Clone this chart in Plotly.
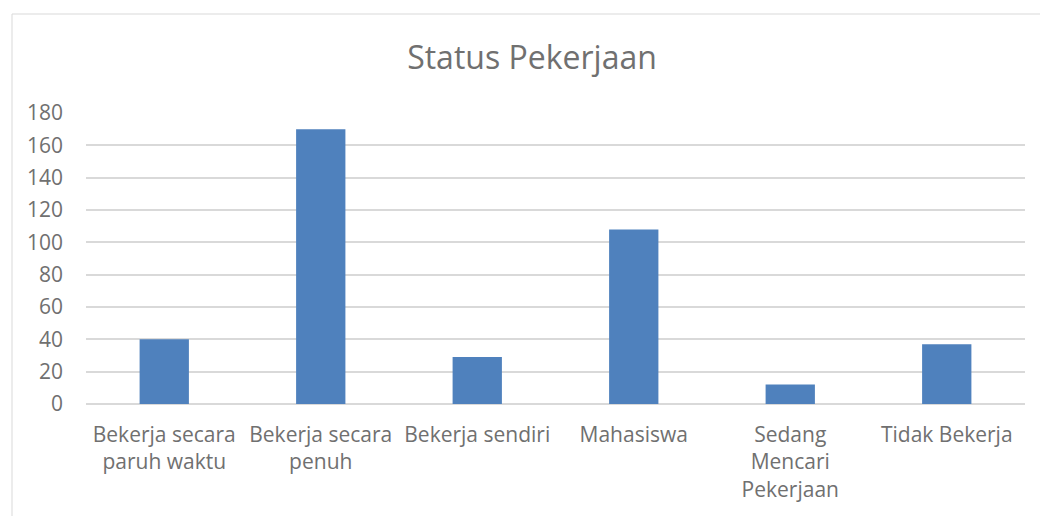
import plotly.graph_objects as go

categories = [
    "Bekerja secara<br>paruh waktu",
    "Bekerja secara<br>penuh",
    "Bekerja sendiri",
    "Mahasiswa",
    "Sedang<br>Mencari<br>Pekerjaan",
    "Tidak Bekerja",
]
values = [40, 170, 29, 108, 12, 37]
y_ticks = [0, 20, 40, 60, 80, 100, 120, 140, 160, 180]

W, H = 1040, 516
L, R, T, B = 86, 15, 113, 112
pw, ph = W - L - R, H - T - B

fig = go.Figure(go.Bar(
    x=categories, y=values,
    marker=dict(color="#4F81BD", line=dict(color="#4F81BD", width=0)),
))

font_family = "Open Sans, sans-serif"
text_color = "#707070"
fig.update_layout(
    width=W, height=H,
    margin=dict(l=L, r=R, t=T, b=B),
    paper_bgcolor="white", plot_bgcolor="white",
    bargap=0.685,
    showlegend=False,
    title=dict(text="Status Pekerjaan", x=532 / W, xanchor="center",
               y=1 - 58 / H, yanchor="middle", yref="container",
               font=dict(family=font_family, size=32, color=text_color)),
    font=dict(family=font_family, color=text_color),
)
fig.update_yaxes(range=[0, 180], tickvals=y_ticks, showgrid=True,
                 gridcolor="#d9d9d9", gridwidth=1.5, zeroline=True,
                 zerolinecolor="#d9d9d9", zerolinewidth=1.5,
                 showline=False, ticks="", ticklabelstandoff=22,
                 tickfont=dict(size=21, color=text_color, family=font_family))
fig.update_xaxes(showgrid=False, showline=False, ticks="",
                 ticklabelstandoff=16,
                 tickfont=dict(size=21, color=text_color, family=font_family))

fig.add_shape(type="rect", xref="paper", yref="paper",
              x0=(12 - L) / pw, x1=(W + 5 - L) / pw,
              y0=-(H + 5 - (H - B)) / ph, y1=1 + (T - 14) / ph,
              line=dict(color="#d9d9d9", width=1), fillcolor="rgba(0,0,0,0)",
              layer="below")

fig.write_html("out.html", config={"displayModeBar": False},
               post_script="document.body.style.margin='0';document.body.style.overflow='hidden';")
